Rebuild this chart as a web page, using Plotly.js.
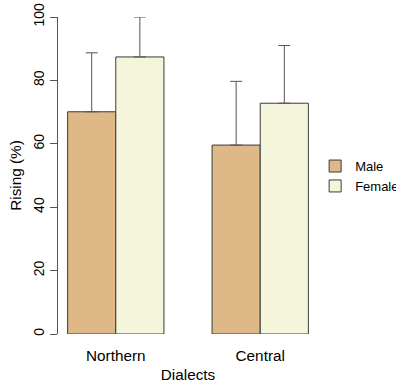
<!DOCTYPE html>
<html>
<head>
<meta charset="utf-8">
<script src="https://cdn.plot.ly/plotly-3.0.1.min.js"></script>
<style>html,body{margin:0;padding:0;background:#fff;}#chart{width:396px;height:388px;}</style>
</head>
<body>
<div id="chart"></div>
<script>
const categories = ["Northern", "Central"];
const seriesNames = ["Male", "Female"];
const maleValues = [70.1, 59.6];
const femaleValues = [87.4, 72.8];
const maleErrUp = [18.6, 20.1];
const femaleErrUp = [12.6, 18.2];
const yTickVals = [0, 20, 40, 60, 80, 100];
const yTickText = ["0", "20", "40", "60", "80", "100"];

const FONT = "Liberation Sans, Arial, sans-serif";
function mkTrace(name, vals, errs, color) {
  return {
    type: "bar", name: name, x: categories, y: vals,
    marker: {color: color, line: {color: "#3a3a3a", width: 1}},
    error_y: {type: "data", symmetric: false, array: errs, arrayminus: errs.map(() => 0),
              color: "#555555", thickness: 1, width: 6},
    cliponaxis: false
  };
}
const data = [
  mkTrace(seriesNames[0], maleValues, maleErrUp, "#DEB887"),
  mkTrace(seriesNames[1], femaleValues, femaleErrUp, "#F5F5DC")
];
const layout = {
  width: 396, height: 388,
  margin: {l: 58, r: 78, t: 17, b: 54, autoexpand: false},
  paper_bgcolor: "#fff", plot_bgcolor: "#fff",
  font: {family: FONT, color: "#000", size: 15},
  barmode: "group", bargap: 1/3, bargroupgap: 0,
  showlegend: true,
  legend: {x: 0.989, xanchor: "left", y: 0.577, yanchor: "top",
           font: {size: 13, family: FONT}, bgcolor: "rgba(0,0,0,0)", tracegroupgap: 0},
  xaxis: {range: [-0.4, 1.4], showline: false, ticks: "outside", ticklen: 8,
          tickcolor: "rgba(0,0,0,0)", showgrid: false, zeroline: false,
          tickfont: {size: 15.3}, title: {text: "Dialects", font: {size: 15.3}, standoff: 5}},
  yaxis: {range: [0, 100], tickvals: yTickVals, ticktext: yTickText, tickangle: -90,
          ticks: "outside", ticklen: 7, tickcolor: "#555", showline: true, linecolor: "#555",
          linewidth: 1, showgrid: false, zeroline: false, tickfont: {size: 14},
          title: {text: "Rising (%)", font: {size: 15.3}, standoff: 6}}
};
Plotly.newPlot("chart", data, layout, {displayModeBar: false, staticPlot: true});
</script>
</body>
</html>
